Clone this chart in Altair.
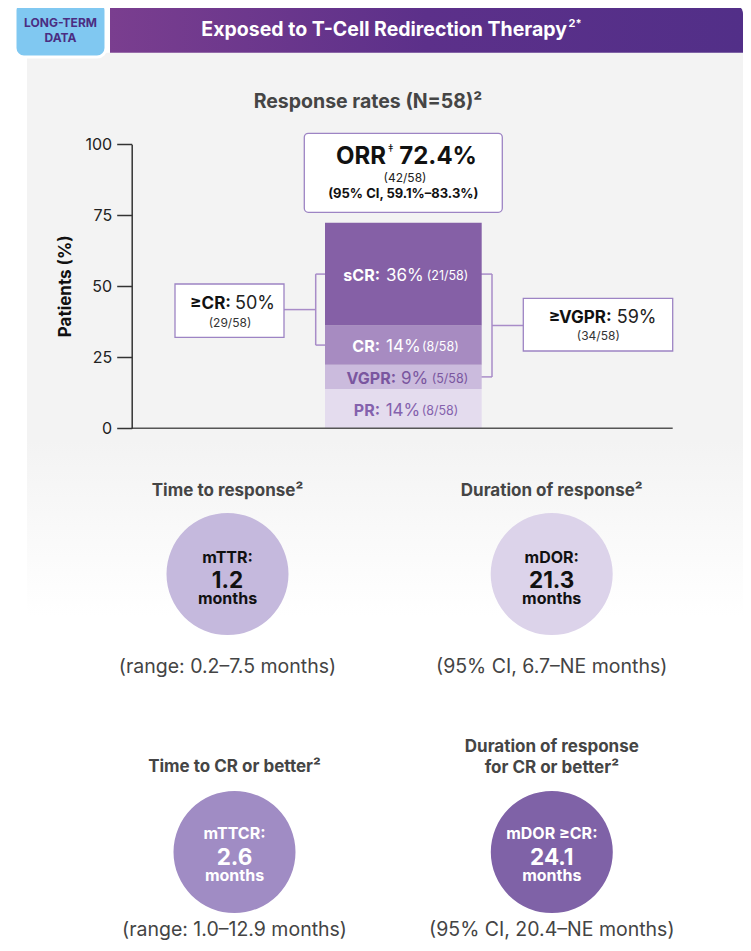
import altair as alt
import pandas as pd

# ---------------- data ----------------
RESPONSES = ["PR", "VGPR", "CR", "sCR"]          # bottom -> top
RESP_PCT = [13.8, 8.6, 13.8, 36.2]
RESP_N = [8, 5, 8, 21]
N_TOTAL = 58
ORR_PCT = 72.4
ORR_N = 42
ORR_CI = "(95% CI, 59.1%–83.3%)"
GE_CR_PCT = 50
GE_CR_N = 29
GE_VGPR_PCT = 59
GE_VGPR_N = 34
Y_TICKS = [0, 25, 50, 75, 100]

TIME_TITLES = [["Time to response²"], ["Duration of response²"],
               ["Time to CR or better²"], ["Duration of response", "for CR or better²"]]
TIME_NAMES = ["mTTR:", "mDOR:", "mTTCR:", "mDOR ≥CR:"]
TIME_VALUES = ["1.2", "21.3", "2.6", "24.1"]
TIME_RANGES = ["(range: 0.2–7.5 months)", "(95% CI, 6.7–NE months)",
               "(range: 1.0–12.9 months)", "(95% CI, 20.4–NE months)"]

# ---------------- style / layout ----------------
FONT = "Inter"
PAGE = 8                 # page margin
AXIS_X = 131.7           # page x of the y-axis line
OFFX = AXIS_X            # plot origin x on the page
OFFY = PAGE
SEG_COLORS = ["#e4dcee", "#cbbbdd", "#a78bc1", "#8560a6"]
SEG_TEXT = ["#8462ad", "#7a569f", "#ffffff", "#ffffff"]
CIRCLE_FILL = ["#c5b9dd", "#dcd3ea", "#a08cc4", "#7f62a7"]
CIRCLE_TEXT = ["#111111", "#111111", "#ffffff", "#ffffff"]
BOX_STROKE = "#9d84c4"
BRACKET = "#a88cc8"
GREY_TXT = "#454545"

# label anchor x (page px): name right end, value start, count start
SEG_LABEL_X = {"PR": (380, 385.7, 421.7), "VGPR": (396, 401, 431.7),
               "CR": (380, 386, 422), "sCR": (380, 386, 426.7)}
# circle layout: cx, cy, title baselines, name/value/months baselines, range baseline
CIRCLE_LAYOUT = [
    (227.5, 574, [496], 563.0, 587.8, 604, 673),
    (551.7, 574, [496], 563.0, 587.8, 604, 673),
    (234.5, 852, [772.3], 839.0, 864.5, 881, 936),
    (551.8, 852, [751.7, 773.3], 839.0, 864.5, 881, 936),
]

def pxx(v):
    return alt.value(v - OFFX)

def pxy(v):
    return alt.value(v - OFFY)

ONE = pd.DataFrame({"k": [0]})

def text(s, x, y, size, weight="normal", color="#222222", align="center",
         baseline="alphabetic", angle=0):
    return alt.Chart(ONE).mark_text(
        text=s, font=FONT, fontSize=size, fontWeight=weight, color=color,
        align=align, baseline=baseline, angle=angle
    ).encode(x=pxx(x), y=pxy(y))

def rect(x1, y1, x2, y2, **mk):
    return alt.Chart(ONE).mark_rect(**mk).encode(x=pxx(x1), x2=pxx(x2), y=pxy(y1), y2=pxy(y2))

layers = []

# grey panel with fade to white
layers.append(rect(27, 52.7, 760, 622, fill=alt.LinearGradient(
    gradient="linear", x1=0, x2=0, y1=0, y2=1,
    stops=[alt.GradientStop(color="#f3f3f3", offset=0),
           alt.GradientStop(color="#f3f3f3", offset=0.68),
           alt.GradientStop(color="#ffffff", offset=0.99)])))

# header band
layers.append(rect(110, 4, 743, 52.7, cornerRadiusTopRight=10, fill=alt.LinearGradient(
    gradient="linear", x1=0, x2=1, y1=0, y2=0,
    stops=[alt.GradientStop(color="#7a3e8f", offset=0),
           alt.GradientStop(color="#5c308a", offset=0.5),
           alt.GradientStop(color="#522f88", offset=1)])))
# badge
layers.append(rect(15, 1.7, 106, 57, fill="#80c8f1", stroke="white", strokeWidth=3, cornerRadius=9))
layers.append(text("LONG-TERM", 60.5, 27.3, 12, "bold", "#4b2d82"))
layers.append(text("DATA", 60.5, 42.3, 12, "bold", "#4b2d82"))
layers.append(text("Exposed to T-Cell Redirection Therapy", 567, 35.7, 19.5, "bold", "white", align="right"))
layers.append(text("2*", 568.5, 27, 11, "bold", "white", align="left"))

layers.append(text("Response rates (N=58)²", 368, 108.3, 19.5, "bold", GREY_TXT))

# ---------------- stacked bar ----------------
seg = pd.DataFrame({"resp": RESPONSES, "pct": RESP_PCT, "n": RESP_N})
seg["rank"] = range(len(seg))
seg["grp"] = "ORR"
seg["mid"] = seg["pct"].cumsum() - seg["pct"] / 2
mid = dict(zip(seg["resp"], seg["mid"]))

Y_RANGE = [428.3 - OFFY, 144.3 - OFFY]
X_BAND = [325 - OFFX, 481.7 - OFFX]

bars = alt.Chart(seg).mark_bar().encode(
    x=alt.X("grp:N", axis=None,
            scale=alt.Scale(range=X_BAND, paddingInner=0, paddingOuter=0)),
    y=alt.Y("pct:Q", stack="zero",
            scale=alt.Scale(domain=[0, 100], range=Y_RANGE, nice=False),
            axis=alt.Axis(values=Y_TICKS, title=None, grid=False, zindex=2,
                          domainColor="#333333", domainWidth=1.5, tickColor="#333333",
                          tickWidth=1.5, tickSize=15, labelFont=FONT, labelFontSize=16,
                          labelColor="#222222", labelPadding=5)),
    color=alt.Color("resp:N", scale=alt.Scale(domain=RESPONSES, range=SEG_COLORS), legend=None),
    order=alt.Order("rank:Q"),
)

# y-axis title
layers.append(text("Patients (%)", 65.7, 286.3, 17, "bold", "#111111", baseline="middle", angle=270))

# ORR box
layers.append(rect(304.3, 133.3, 502.3, 212.3, fill="white", stroke=BOX_STROKE, strokeWidth=1.3, cornerRadius=4))
layers.append(text("ORR", 386, 164.3, 24, "bold", "#111111", align="right"))
layers.append(text("‡", 388, 152, 11, "normal", "#111111", align="left"))
layers.append(text(f"{ORR_PCT}%", 399.3, 164.3, 24, "bold", "#111111", align="left"))
layers.append(text(f"({ORR_N}/{N_TOTAL})", 405, 181.7, 12, "normal", "#222222"))
layers.append(text(ORR_CI, 403.3, 198.3, 13, "bold", "#111111"))

# brackets (y via data scale)
def hr_data(x1, x2, yv):
    return alt.Chart(ONE).mark_rule(color=BRACKET, strokeWidth=1.5).encode(
        x=pxx(x1), x2=pxx(x2), y=alt.datum(yv))

def vr_data(x, y1, y2):
    return alt.Chart(ONE).mark_rule(color=BRACKET, strokeWidth=1.5).encode(
        x=pxx(x), y=alt.datum(y1), y2=alt.datum(y2))

lt, lb = mid["sCR"], mid["CR"]
layers += [vr_data(315.7, lt, lb), hr_data(315.7, 326, lt), hr_data(315.7, 326, lb),
           hr_data(284, 315.7, (lt + lb) / 2)]
rt, rb = mid["sCR"], mid["VGPR"]
layers += [vr_data(492, rt, rb), hr_data(481, 492, rt), hr_data(481, 492, rb),
           hr_data(492, 523.3, (rt + rb) / 2)]

# >=CR box
layers.append(rect(175, 284, 284, 337.3, fill="white", stroke=BOX_STROKE, strokeWidth=1.3))
layers.append(text("≥CR:", 231, 309.3, 17, "bold", "#111111", align="right"))
layers.append(text(f"{GE_CR_PCT}%", 235, 309.3, 18, "normal", "#222222", align="left"))
layers.append(text(f"({GE_CR_N}/{N_TOTAL})", 230, 326.7, 12, "normal", "#333333"))
# >=VGPR box
layers.append(rect(523.3, 298.3, 672.7, 351, fill="white", stroke=BOX_STROKE, strokeWidth=1.3))
layers.append(text("≥VGPR:", 611.7, 322.7, 17, "bold", "#111111", align="right"))
layers.append(text(f"{GE_VGPR_PCT}%", 616.7, 322.7, 18, "normal", "#222222", align="left"))
layers.append(text(f"({GE_VGPR_N}/{N_TOTAL})", 598.3, 340, 12, "normal", "#333333"))

layers.append(bars)

# segment labels
for i, r in seg.iterrows():
    d = seg.iloc[[i]]
    xe, xv, xc = SEG_LABEL_X[r["resp"]]
    col = SEG_TEXT[i]
    parts = [(f"{r['resp']}:", xe, "right", 16, "bold"),
             (f"{round(r['pct'])}%", xv, "left", 17, "normal"),
             (f"({r['n']}/{N_TOTAL})", xc, "left", 12.5, "normal")]
    for s, xx, al, fs, fw in parts:
        layers.append(alt.Chart(d).mark_text(
            text=s, font=FONT, fontSize=fs, fontWeight=fw, color=col,
            align=al, baseline="middle", dy=2
        ).encode(x=pxx(xx), y=alt.Y("mid:Q", title=None)))

# baseline
layers.append(alt.Chart(ONE).mark_rule(color="#555555", strokeWidth=1.5).encode(
    x=pxx(AXIS_X), x2=pxx(672.7), y=alt.datum(0)))

# ---------------- time circles ----------------
for i, (cx, cy, tbl, nb, vb, mb, rb) in enumerate(CIRCLE_LAYOUT):
    layers.append(alt.Chart(ONE).mark_circle(size=122 ** 2, opacity=1,
                                              color=CIRCLE_FILL[i]).encode(x=pxx(cx), y=pxy(cy)))
    for t, b in zip(TIME_TITLES[i], tbl):
        layers.append(text(t, cx, b, 17, "bold", GREY_TXT))
    layers.append(text(TIME_NAMES[i], cx, nb, 16, "bold", CIRCLE_TEXT[i]))
    layers.append(text(TIME_VALUES[i], cx, vb, 22.5, "bold", CIRCLE_TEXT[i]))
    layers.append(text("months", cx, mb, 16, "bold", CIRCLE_TEXT[i]))
    layers.append(text(TIME_RANGES[i], cx, rb, 19.5, "normal", "#444444"))

chart = alt.layer(*layers).properties(
    width=735 - (AXIS_X - PAGE), height=935,
    padding={"left": AXIS_X - PAGE, "top": 0, "right": 0, "bottom": 0},
    background="white",
    autosize=alt.AutoSizeParams(type="none"),
).configure_view(stroke=None)

chart.save("out.html", embed_options={"renderer": "svg", "actions": False})
